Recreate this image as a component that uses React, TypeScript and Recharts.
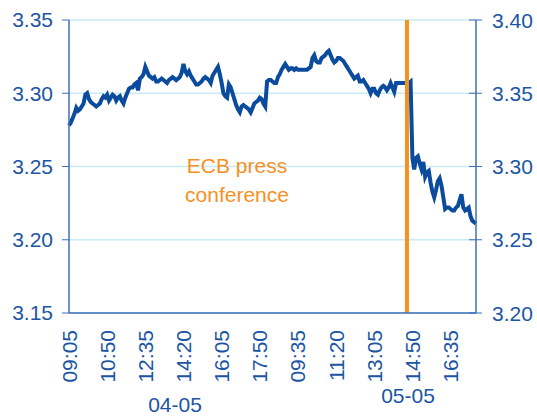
import React from 'react';
import { LineChart, Line, XAxis, YAxis, CartesianGrid, ReferenceLine } from 'recharts';

// 5-minute quotes, two trading days
const dayDates = ['04-05', '05-05'];
const dayStarts = ['09:05', '08:10'];

const day1Values = [
  3.278, 3.280, 3.283, 3.286, 3.290, 3.288, 3.289, 3.291, 3.293, 3.299,
  3.300, 3.296, 3.294, 3.293, 3.292, 3.291, 3.292, 3.293, 3.296, 3.298,
  3.297, 3.299, 3.295, 3.297, 3.299, 3.298, 3.295, 3.297, 3.298, 3.295,
  3.293, 3.297, 3.300, 3.303, 3.304, 3.304, 3.306, 3.307, 3.302, 3.310,
  3.311, 3.313, 3.318, 3.315, 3.312, 3.311, 3.310, 3.311, 3.308, 3.308,
  3.309, 3.310, 3.309, 3.308, 3.307, 3.309, 3.310, 3.311, 3.310, 3.309,
  3.310, 3.311, 3.314, 3.320, 3.315, 3.313, 3.315, 3.312, 3.310, 3.308,
  3.306, 3.306, 3.307, 3.308, 3.310, 3.311, 3.310, 3.309, 3.307, 3.312,
  3.314, 3.316, 3.318, 3.313, 3.307, 3.300, 3.298, 3.297, 3.306, 3.304,
  3.300, 3.296, 3.292, 3.289, 3.287, 3.291, 3.292, 3.291, 3.290, 3.289,
  3.287, 3.290, 3.293, 3.294, 3.295, 3.297, 3.296, 3.293, 3.291,
];

const day2Values = [
  3.308, 3.309, 3.309, 3.308, 3.307, 3.307, 3.311, 3.313, 3.316, 3.318,
  3.320, 3.318, 3.316, 3.317, 3.317, 3.316, 3.317, 3.316, 3.316, 3.316,
  3.316, 3.316, 3.316, 3.317, 3.318, 3.324, 3.326, 3.322, 3.321, 3.321,
  3.324, 3.325, 3.326, 3.328, 3.329, 3.326, 3.323, 3.321, 3.322, 3.324,
  3.324, 3.323, 3.322, 3.320, 3.318, 3.316, 3.314, 3.312, 3.310, 3.311,
  3.312, 3.308, 3.308, 3.309, 3.307, 3.305, 3.303, 3.300, 3.303, 3.303,
  3.300, 3.299, 3.302, 3.304, 3.305, 3.304, 3.302, 3.304, 3.307, 3.304,
  3.301, 3.307, 3.307, 3.307, 3.307, 3.307, 3.307, 3.307, 3.307, 3.308,
  3.256, 3.248, 3.256, 3.257, 3.252, 3.248, 3.253, 3.243, 3.246, 3.247,
  3.239, 3.233, 3.229, 3.234, 3.240, 3.242, 3.237, 3.229, 3.221, 3.222,
  3.222, 3.221, 3.220, 3.220, 3.222, 3.223, 3.227, 3.231, 3.222, 3.220,
  3.221, 3.222, 3.216, 3.213, 3.212, 3.211,
];

const leftTicks = [3.15, 3.2, 3.25, 3.3, 3.35];
const rightTicks = [3.2, 3.25, 3.3, 3.35, 3.4];
const eventKey = '05-05 14:35';
const eventText = ['ECB press', 'conference'];

const BLUE_LINE = '#0a4b9e';
const AXIS = '#3f6fb5';
const TEXT = '#1c55a3';
const GRID = '#c8ebf8';
const ORANGE = '#f7901e';
const FONT = 21;

const addMinutes = (start: string, n: number) => {
  const [h, m] = start.split(':').map(Number);
  const t = h * 60 + m + n;
  const hh = String(Math.floor(t / 60)).padStart(2, '0');
  const mm = String(t % 60).padStart(2, '0');
  return `${hh}:${mm}`;
};

const data = [day1Values, day2Values].flatMap((vals, d) =>
  vals.map((v, i) => ({ key: `${dayDates[d]} ${addMinutes(dayStarts[d], i * 5)}`, v }))
);

const XTick = (props: any) => {
  const { x, y, payload } = props;
  const label = String(payload.value).split(' ')[1];
  return (
    <text
      x={x}
      y={y}
      transform={`rotate(-90, ${x}, ${y})`}
      textAnchor="end"
      dy="0.36em"
      fill={TEXT}
      fontSize={FONT}
    >
      {label}
    </text>
  );
};

const RightTick = (props: any) => {
  const { x, y, payload } = props;
  return (
    <g>
      <line x1={x - 23} x2={x - 10} y1={y} y2={y} stroke={AXIS} strokeWidth={1} />
      <text x={x} y={y} dy="0.36em" textAnchor="start" fill={TEXT} fontSize={FONT}>
        {Number(payload.value).toFixed(2)}
      </text>
    </g>
  );
};

const App = () => {
  return (
    <div
      style={{
        position: 'absolute',
        left: 0,
        top: 0,
        width: 537,
        height: 418,
        background: '#ffffff',
        fontFamily: '"Liberation Sans", Arial, sans-serif',
      }}
    >
      <LineChart width={537} height={418} data={data} margin={{ top: 20, right: 0, left: 0, bottom: 0 }}>
        <CartesianGrid vertical={false} stroke={GRID} strokeWidth={1.5} yAxisId="left" />
        <XAxis
          dataKey="key"
          interval={20}
          tickLine={false}
          axisLine={{ stroke: AXIS, strokeWidth: 1.5 }}
          tickSize={0}
          tickMargin={17}
          height={105}
          tick={<XTick />}
        />
        <YAxis
          yAxisId="left"
          domain={[3.15, 3.35]}
          ticks={leftTicks}
          width={69}
          tickSize={7}
          tickMargin={9}
          axisLine={{ stroke: AXIS, strokeWidth: 1.5 }}
          tickLine={{ stroke: AXIS }}
          tick={{ fill: TEXT, fontSize: FONT }}
          tickFormatter={(v: number) => v.toFixed(2)}
          allowDataOverflow
        />
        <YAxis
          yAxisId="right"
          orientation="right"
          domain={[3.2, 3.4]}
          ticks={rightTicks}
          width={61}
          tickSize={6}
          tickMargin={10}
          axisLine={{ stroke: AXIS, strokeWidth: 1.5 }}
          tickLine={false}
          tick={<RightTick />}
          allowDataOverflow
        />
        <Line
          yAxisId="left"
          type="linear"
          dataKey="v"
          stroke={BLUE_LINE}
          strokeWidth={4}
          dot={false}
          isAnimationActive={false}
        />
        <ReferenceLine yAxisId="left" x={eventKey} stroke={ORANGE} strokeWidth={4} />
      </LineChart>
      <svg
        width={537}
        height={418}
        style={{ position: 'absolute', left: 0, top: 0, pointerEvents: 'none' }}
      >
        <text x={237} y={173} textAnchor="middle" fill={ORANGE} fontSize={FONT}>
          {eventText[0]}
        </text>
        <text x={237} y={202} textAnchor="middle" fill={ORANGE} fontSize={FONT}>
          {eventText[1]}
        </text>
        <text x={175} y={412} textAnchor="middle" fill={TEXT} fontSize={FONT}>
          {dayDates[0]}
        </text>
        <text x={408} y={403} textAnchor="middle" fill={TEXT} fontSize={FONT}>
          {dayDates[1]}
        </text>
      </svg>
    </div>
  );
};

export default App;
